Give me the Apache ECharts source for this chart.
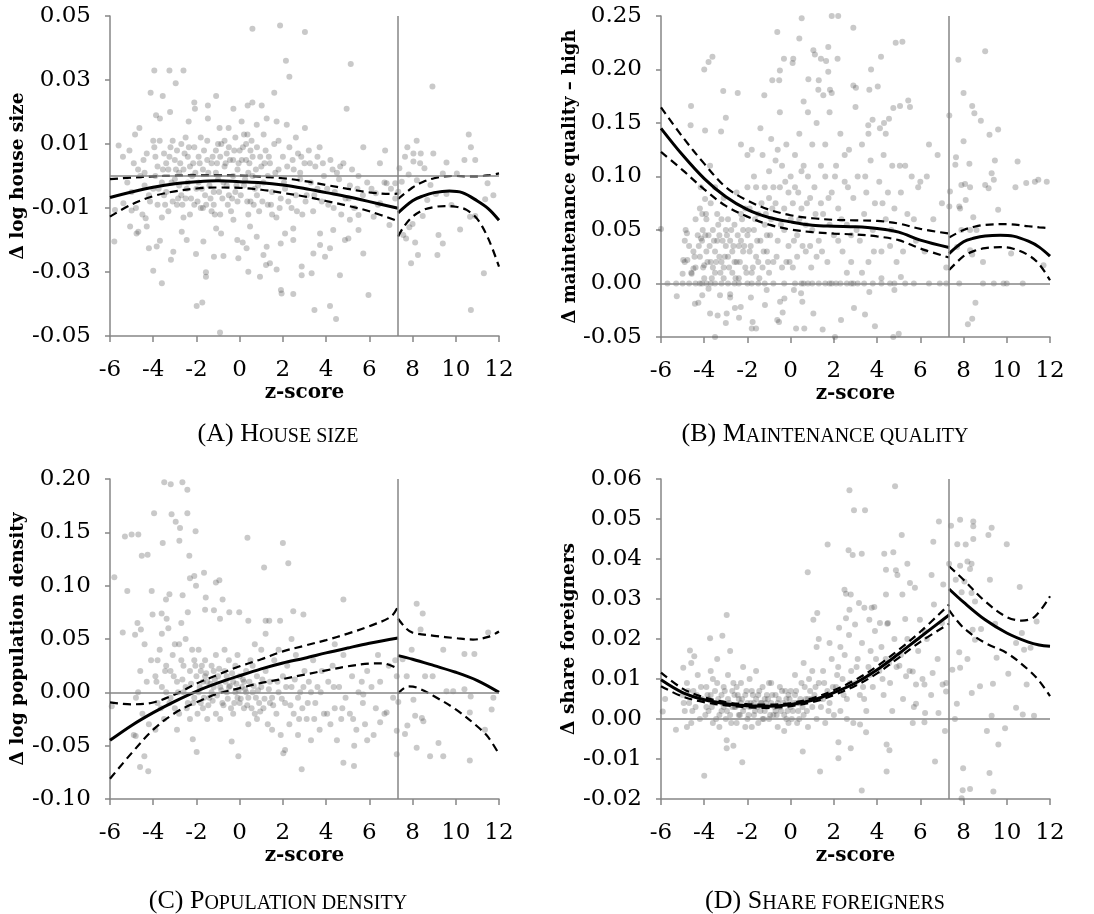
<!DOCTYPE html>
<html><head><meta charset="utf-8">
<script src="https://cdn.jsdelivr.net/npm/echarts@6/dist/echarts.min.js"></script>
<style>html,body{margin:0;padding:0;background:#fff}#c{width:1094px;height:914px}</style>
</head><body><div id="c"></div><script>
// ---------- axis settings ----------
const xMin = -6, xMax = 12, xStep = 2;
const cutoff = 7.33;
const yMinA = -0.05, yMaxA = 0.05, yStepA = 0.02;
const yMinB = -0.05, yMaxB = 0.25, yStepB = 0.05;
const yMinC = -0.10, yMaxC = 0.20, yStepC = 0.05;
const yMinD = -0.02, yMaxD = 0.06, yStepD = 0.01;
const yNames = ['Δ log house size', 'Δ maintenance quality – high', 'Δ log population density', 'Δ share foreigners'];
const xName = 'z-score';
const capBig = ['(A) H', '(B) M', '(C) P', '(D) S'];
const capSmall = ['OUSE SIZE', 'AINTENANCE QUALITY', 'OPULATION DENSITY', 'HARE FOREIGNERS'];

// ---------- panel A: house size ----------
const ptsA = [
[1.87,0.047],[0.59,0.046],[3.02,0.045],[2.14,0.036],[5.14,0.035],[-3.95,0.033],[-3.25,0.033],[-2.6,0.033],[2.3,0.031],[-2.96,0.029],[8.92,0.028],[-4.12,0.026],[-3.56,0.025],[1.6,0.026],[-2.1,0.023],[-1.09,0.025],[-0.29,0.021],[0.37,0.022],[0.59,0.023],[-2.07,0.021],[-1.47,0.022],[1.02,0.022],[4.95,0.021],[-3.22,0.02],[-3.87,0.019],[-3.69,0.018],[1.25,0.018],[1.71,0.017],[-2.36,0.017],[-1.47,0.018],[0.09,0.017],[0.79,0.016],[2.18,0.016],[3.02,0.015],[-4.64,0.015],[-4.84,0.013],[-0.93,0.015],[-0.51,0.015],[0.36,0.013],[1.11,0.013],[6.73,0.008],[10.6,0.013],[7.76,0.009],[8.19,0.011],[10.7,0.009],[10.9,0.005],[10.4,0.005],[8.96,0.007],[5.72,0.009],[6.49,0.004],[8.04,0.007],[8.38,0.007],[7.65,0.006],
[-5.8,-0.0205],[-4.0,-0.0296],[-3.6,-0.0335],[-1.99,-0.0406],[-1.73,-0.0395],[-1.56,-0.0301],[-1.56,-0.0315],[-0.91,-0.0489],[1.91,-0.0356],[1.94,-0.0367],[2.48,-0.0369],[3.46,-0.0419],[4.18,-0.0406],[4.46,-0.0447],[5.96,-0.0372],[4.64,-0.031],[2.87,-0.031],[10.7,-0.0419],[11.3,-0.0304],[7.93,-0.0273],[8.12,-0.0208],[8.25,-0.0247],[9.15,-0.0247],[9.4,-0.0211],[9.2,-0.0184],[10.2,-0.0167],[7.57,-0.0184],[7.7,-0.0195],[7.85,-0.016],[8.0,-0.015],[8.47,-0.0125],[8.68,-0.0075],[10.66,-0.0127],[10.9,-0.0125],[11.36,-0.0073],[11.74,-0.006],[11.47,-0.0023],[9.8,-0.0091],[9.08,-0.0056],[9.57,-0.0056],[8.83,-0.0028],[9.4,0.0008],[10.05,0.0008],[9.57,0.0042],[8.04,0.0045],[8.35,0.004],[8.55,0.0024],[8.2,-0.0013],[7.82,0.0005],[7.39,0.0024],[7.5,-0.0018],[7.34,-0.0049],[6.93,-0.0153],[7.2,-0.0023],[6.8,-0.0023],[6.3,-0.0054],[6.5,-0.0085],[6.2,-0.0127],[5.5,-0.0122],[5.5,-0.0169],[5.72,-0.0242],[5.1,-0.0137],[5.03,-0.0195],[4.87,-0.02],[4.33,-0.0169],[4.18,-0.0226],[3.95,-0.0252],[3.72,-0.0216],[3.72,-0.018],[3.41,-0.0242],[2.87,-0.0283],[3.33,-0.0304],[2.48,-0.02],[2.48,-0.0164],[2.1,-0.018],[1.9,-0.0211],[1.4,-0.0273],[1.71,-0.0292],[1.22,-0.0278],[0.94,-0.0315],[1.25,-0.0221],[1.1,-0.0247],[0.79,-0.019],[0.48,-0.0158],[0.4,-0.0299],[0.32,-0.0226],[0.14,-0.0208],[-0.06,-0.0257],[-0.11,-0.02],[-0.29,-0.0137],[-0.75,-0.025],[-0.86,-0.018],[-1.19,-0.0252],[-1.09,-0.0164],[-1.68,-0.0205],[-2.02,-0.0244],[-2.45,-0.02],[-2.68,-0.0174],[-3.07,-0.0237],[-3.18,-0.0262],[-3.69,-0.0202],[-3.84,-0.022],[-4.2,-0.0226],[-4.3,-0.0158],[-4.35,-0.0132],[-4.77,-0.018],[-4.69,-0.0174],[-5.07,-0.0158],[-5.0,-0.0108],[-5.38,-0.0085],[-5.77,-0.0106],
[-5.6,0.0095],[-5.4,0.006],[-5.1,0.008],[-4.9,0.004],[-4.7,0.002],[-4.6,0.0],[-4.4,-0.003],[-4.3,0.007],[-4.2,-0.006],[-5.2,-0.002],[-5.0,-0.005],[-4.8,-0.01],[-4.5,-0.012],[-4.4,0.001],
[-4.0,0.011],[-3.9,0.006],[-3.8,0.003],[-3.7,0.011],[-3.6,-0.002],[-3.5,0.007],[-3.4,-0.005],[-3.3,0.002],[-3.2,0.009],[-3.1,-0.008],[-3.0,0.005],[-4.0,-0.004],[-3.8,-0.009],[-3.6,-0.013],[-3.3,-0.011],[-3.0,-0.001],[-3.9,0.0],[-3.5,-0.006],[-3.1,0.011],[-3.4,0.004],
[-2.9,0.008],[-2.8,-0.003],[-2.7,0.01],[-2.6,0.002],[-2.5,-0.007],[-2.4,0.006],[-2.3,-0.012],[-2.2,0.0],[-2.1,0.009],[-2.0,-0.004],[-2.9,-0.009],[-2.7,-0.006],[-2.5,0.012],[-2.3,0.003],[-2.1,-0.009],[-2.8,0.001],[-2.6,-0.013],[-2.4,-0.002],
[-1.9,0.006],[-1.8,-0.01],[-1.7,0.002],[-1.6,-0.006],[-1.5,0.011],[-1.4,-0.003],[-1.3,0.004],[-1.2,-0.009],[-1.1,0.008],[-1.0,-0.001],[-1.9,-0.002],[-1.7,-0.01],[-1.5,0.005],[-1.3,-0.011],[-1.1,0.001],[-1.0,0.01],[-1.8,0.012],[-1.2,-0.005],
[-0.9,0.006],[-0.8,-0.007],[-0.7,0.003],[-0.6,-0.003],[-0.5,0.009],[-0.4,-0.011],[-0.3,0.005],[-0.2,-0.005],[-0.1,0.002],[0.0,0.008],[-0.9,-0.012],[-0.7,0.011],[-0.5,-0.006],[-0.3,0.0],[-0.1,-0.008],[-0.6,0.007],[-0.2,0.012],
[0.1,0.005],[0.2,-0.003],[0.3,0.01],[0.4,0.001],[0.5,-0.008],[0.6,0.006],[0.7,-0.004],[0.8,0.009],[0.9,-0.011],[1.0,0.003],[0.2,0.013],[0.4,-0.012],[0.6,0.0],[0.8,-0.006],[0.3,0.005],[0.5,0.008],
[1.1,-0.002],[1.2,0.008],[1.3,-0.009],[1.4,0.004],[1.5,-0.005],[1.6,0.01],[1.7,-0.013],[1.8,0.002],[1.9,-0.007],[2.0,0.006],[1.3,0.0],[1.5,-0.012],[1.8,0.011],
[2.1,-0.004],[2.3,0.009],[2.4,-0.01],[2.5,0.002],[2.6,-0.006],[2.7,0.007],[2.8,-0.001],[2.9,-0.012],[3.0,0.004],[2.2,0.003],[2.6,0.012],[2.8,0.001],
[3.1,-0.006],[3.2,0.008],[3.4,-0.011],[3.5,0.003],[3.6,-0.004],[3.7,0.009],[3.8,-0.008],[3.9,0.0],[3.3,-0.002],[3.6,0.006],
[4.1,-0.009],[4.2,0.005],[4.4,-0.005],[4.5,0.001],[4.7,-0.012],[4.8,0.004],[4.9,-0.007],[4.3,0.002],[4.6,-0.001],
[5.1,-0.003],[5.3,-0.01],[5.5,0.0],[5.7,-0.006],[5.9,-0.002],[5.2,0.002],
[6.1,-0.004],[6.4,-0.009],[6.7,-0.002],[7.0,-0.004],[7.2,-0.007],
[-4.45,0.005],[-4.15,-0.008],[-3.95,0.009],[-3.75,-0.004],[-3.55,0.002],[-3.45,-0.009],[-3.25,0.006],[-3.15,-0.002],[-2.95,0.002],[-2.85,-0.007],[-2.75,0.004],[-2.65,-0.009],[-2.55,0.007],[-2.45,-0.004],[-2.35,0.009],[-2.25,-0.007],[-2.15,0.004],[-2.05,0.001],[-1.95,-0.008],[-1.85,0.004],[-1.75,-0.004],[-1.65,0.008],[-1.55,-0.009],[-1.45,0.001],[-1.35,-0.007],[-1.25,0.006],[-1.15,-0.012],[-1.05,0.004],[-0.95,-0.005],[-0.85,0.01],[-0.75,-0.002],[-0.65,0.004],[-0.55,-0.009],[-0.45,0.005],[-0.35,-0.007],[-0.25,0.008],[-0.15,-0.003],[-0.05,0.004],[0.05,-0.006],[0.15,0.009],[0.25,-0.001],[0.35,-0.008],[0.45,0.004],[0.55,0.011],[0.65,-0.009],[0.75,0.002],[0.85,-0.003],[0.95,0.006],[1.05,-0.008],[1.15,0.004],[1.35,0.006],[1.45,-0.009],[1.65,0.001],[1.85,-0.01],[2.05,-0.002],[2.25,-0.008],[2.45,0.005],[2.65,-0.011],[2.85,0.006],[3.05,-0.008],[3.25,0.004],[3.45,-0.006],[3.85,0.004],[4.05,-0.004],[4.35,-0.01],[4.65,0.003],[5.05,-0.007],[5.45,-0.004]
];
const fitA_L = [[-6,-0.0067],[-5,-0.005],[-4,-0.0035],[-3,-0.0024],[-2,-0.0018],[-1,-0.0015],[0,-0.0018],[1,-0.0021],[2,-0.0028],[3,-0.0039],[4,-0.0052],[5,-0.0065],[6,-0.008],[7.33,-0.0101]];
const upA_L = [[-6,-0.001],[-5,-0.0005],[-4,-0.0001],[-3,0.0001],[-2,0.0002],[-1,0.0002],[0,0.0001],[1,-0.0002],[2,-0.0007],[3,-0.0016],[4,-0.0028],[5,-0.004],[6,-0.0051],[7,-0.0056],[7.33,-0.0055]];
const loA_L = [[-6,-0.0127],[-5,-0.0089],[-4,-0.0063],[-3,-0.0048],[-2,-0.0039],[-1,-0.0036],[0,-0.0037],[1,-0.0043],[2,-0.0053],[3,-0.0064],[4,-0.0078],[5,-0.0093],[6,-0.011],[7.33,-0.0141]];
const fitA_R = [[7.33,-0.0115],[8,-0.0077],[8.5,-0.0062],[9,-0.0052],[9.7,-0.0047],[10.3,-0.0052],[11,-0.0078],[11.5,-0.0102],[12,-0.0138]];
const upA_R = [[7.33,-0.0072],[8,-0.0036],[8.5,-0.0018],[9,-0.0007],[9.5,-0.0001],[10,0.0],[10.5,-0.0001],[11,-0.0001],[11.5,0.0002],[12,0.0008]];
const loA_R = [[7.33,-0.0189],[7.6,-0.0158],[8,-0.0127],[8.5,-0.0106],[9,-0.0097],[9.5,-0.0094],[10,-0.0096],[10.5,-0.0106],[11,-0.0135],[11.5,-0.0195],[12,-0.0283]];

// ---------- panel B: maintenance quality ----------
const ptsB = [
[0.51,0.248],[1.9,0.25],[2.2,0.25],[2.9,0.239],[-0.62,0.235],[0.4,0.229],[4.86,0.225],[5.17,0.226],[9.0,0.217],[1.05,0.218],[1.74,0.221],[1.12,0.214],[1.4,0.21],[1.64,0.208],[2.17,0.21],[-0.31,0.21],[0.12,0.21],[0.09,0.206],[4.18,0.212],[3.72,0.2],[2.9,0.185],[3.02,0.183],[3.64,0.181],[4.03,0.184],[8.0,0.178],[-0.5,0.199],[-0.53,0.19],[-0.85,0.19],[1.74,0.198],[1.82,0.181],[1.9,0.178],[1.51,0.176],[1.28,0.181],[0.82,0.191],[7.76,0.209],[-4.0,0.2],[-3.8,0.207],[-3.62,0.212],[-3.12,0.18],[-2.45,0.178],[-1.22,0.176],[-4.61,0.166],[-3.0,0.155],[-3.22,0.142],[-3.96,0.143],[-4.63,0.148],[5.44,0.171],[5.52,0.165],[5.06,0.166],[4.75,0.164],[4.55,0.154],[4.32,0.15],[3.79,0.153],[4.13,0.145],[3.59,0.148],[7.34,0.157],[8.8,0.152],[8.4,0.166],[8.5,0.159],[8.0,0.133],[9.2,0.139],[9.6,0.144],[10.5,0.114],[9.45,0.115],[10.9,0.094],[11.3,0.095],[11.85,0.095],[11.46,0.097],[10.4,0.09],[9.3,0.103],[9.0,0.092],[9.16,0.089],[9.6,0.069],[9.4,0.097],[8.27,0.112],[8.07,0.093],[7.9,0.092],[8.3,0.09],[7.65,0.118],[7.62,0.111],[7.37,0.086],[7.8,0.072],[8.1,0.078],[7.84,0.07],[7.34,0.072],[8.45,0.062],[8.3,0.05],[8.6,0.05],[7.9,0.05],[7.7,0.034],[8.3,0.031],[8.4,0.027],[10.2,0.028],[8.9,0.02],[11.7,0.017],[8.55,-0.018],[8.4,-0.033],[8.2,-0.038],
[-6.0,0.051],[-4.86,0.05],[-4.8,0.047],[-4.97,0.022],[-4.78,0.022],[-5.0,0.009],[-5.27,-0.012],[-4.58,0.009],[-4.5,0.014],[-4.43,-0.019],[-4.27,-0.018],[-4.09,-0.011],[-4.0,0.017],[-4.09,0.065],[-3.96,0.079],[-3.73,0.11],[-4.15,0.042],[-4.07,0.05],[-4.16,0.09],[-3.92,0.065],[-3.73,-0.028],[-3.5,-0.05],[-3.38,-0.03],[-3.0,-0.037],[-2.96,-0.028],[-2.8,-0.013],[-3.27,-0.011],[-2.39,-0.032],[-2.58,-0.023],[-2.31,-0.022],[-1.76,-0.036],[-1.6,-0.042],[-1.8,-0.042],[-1.84,-0.013],[-1.19,-0.02],[-1.11,-0.006],[-0.62,-0.034],[-0.54,-0.036],[-0.37,-0.027],[-0.49,-0.017],[-0.29,-0.014],[0.25,-0.042],[0.63,-0.042],[1.05,-0.028],[1.48,-0.043],[0.54,-0.017],[0.48,-0.009],[0.15,-0.006],[2.05,-0.05],[2.33,-0.034],[2.93,-0.023],[3.44,-0.029],[3.64,-0.008],[3.9,-0.04],[4.75,-0.05],[5.0,-0.047],[4.2,0.005],[5.1,0.006],[4.8,-0.006],
[-5.7,0],[-5.3,0],[-5.0,0],[-4.7,0],[-4.4,0],[-4.2,0],[-4.1,0],[-3.9,0],[-3.7,0],[-3.5,0],[-3.2,0],[-2.9,0],[-2.6,0],[-2.4,0],[-2.0,0],[-1.8,0],[-1.5,0],[-1.2,0],[-0.8,0],[-0.3,0],[0.2,0],[0.5,0],[0.6,0],[0.8,0],[1.0,0],[1.3,0],[1.6,0],[1.8,0],[1.9,0],[2.1,0],[2.3,0],[2.6,0],[2.8,0],[2.9,0],[3.1,0],[3.4,0],[3.8,0],[4.2,0],[4.6,0],[4.8,0],[5.3,0],[5.7,0],[6.4,0],[6.9,0],[7.2,0],[7.8,0],[8.9,0],[9.4,0],[9.85,0],[10.0,0],[10.74,0],
[-4.9,0.02],[-4.7,0.035],[-4.6,0.01],[-4.5,0.03],[-4.4,0.015],[-4.3,0.045],[-4.2,0.025],[-4.1,0.04],[-4.0,0.005],[-4.9,0.04],[-4.4,0.06],[-4.2,0.07],
[-3.9,0.03],[-3.8,0.045],[-3.7,0.02],[-3.6,0.05],[-3.5,0.01],[-3.4,0.04],[-3.3,0.025],[-3.2,0.06],[-3.1,0.015],[-3.0,0.035],[-3.9,0.06],[-3.7,0.075],[-3.5,0.03],[-3.3,0.045],[-3.1,0.005],[-3.6,0.015],[-3.4,0.065],[-3.2,0.02],[-3.0,0.05],[-3.8,-0.005],[-3.5,0.09],[-3.1,0.08],
[-2.9,0.025],[-2.8,0.04],[-2.7,0.01],[-2.6,0.055],[-2.5,0.02],[-2.4,0.035],[-2.3,0.065],[-2.2,0.03],[-2.1,0.015],[-2.0,0.045],[-2.9,0.06],[-2.7,0.03],[-2.5,0.085],[-2.4,0.005],[-2.2,0.05],[-2.0,0.09],[-2.8,-0.01],[-2.6,0.02],[-2.3,0.04],[-2.1,0.07],[-2.0,0.12],[-2.3,0.13],
[-1.9,0.03],[-1.8,0.01],[-1.7,0.05],[-1.6,0.025],[-1.5,0.065],[-1.4,0.04],[-1.3,0.015],[-1.2,0.055],[-1.1,0.03],[-1.0,0.08],[-1.9,0.07],[-1.7,0.1],[-1.5,0.02],[-1.3,0.12],[-1.1,0.045],[-1.0,0.01],[-1.6,0.09],[-1.4,0.145],[-1.2,0.09],[-1.8,0.125],[-1.0,0.105],
[-0.9,0.06],[-0.8,0.02],[-0.7,0.115],[-0.6,0.04],[-0.5,0.09],[-0.4,0.015],[-0.3,0.07],[-0.2,0.13],[-0.1,0.035],[0.0,0.1],[-0.9,0.135],[-0.7,0.075],[-0.5,0.16],[-0.3,0.05],[-0.1,0.085],[-0.8,0.09],[-0.4,0.11],[-0.2,0.02],[-0.6,0.125],[0.0,0.06],
[0.1,0.015],[0.2,0.09],[0.3,0.045],[0.4,0.14],[0.5,0.07],[0.6,0.11],[0.7,0.03],[0.8,0.16],[0.9,0.08],[1.0,0.05],[0.2,0.12],[0.4,0.06],[0.6,0.17],[0.8,0.1],[1.0,0.13],[0.3,0.025],[0.7,0.055],[0.5,0.105],[0.9,0.035],[0.1,0.075],
[1.1,0.09],[1.2,0.15],[1.3,0.04],[1.4,0.11],[1.5,0.065],[1.6,0.13],[1.7,0.02],[1.8,0.16],[1.9,0.085],[2.0,0.045],[1.2,0.025],[1.4,0.075],[1.6,0.1],[1.8,0.055],[1.3,0.19],
[2.1,0.11],[2.2,0.07],[2.3,0.14],[2.4,0.03],[2.5,0.095],[2.6,0.055],[2.7,0.125],[2.8,0.02],[2.9,0.08],[3.0,0.165],[2.2,0.04],[2.5,0.12],[2.8,0.045],[2.6,0.01],
[3.1,0.1],[3.2,0.04],[3.3,0.13],[3.4,0.065],[3.5,0.085],[3.6,0.02],[3.7,0.115],[3.8,0.05],[3.9,0.075],[3.3,0.01],[3.6,0.14],
[4.1,0.095],[4.2,0.03],[4.3,0.12],[4.4,0.06],[4.5,0.085],[4.6,0.035],[4.7,0.11],[4.8,0.07],[4.9,0.02],[4.4,0.14],
[5.1,0.085],[5.3,0.11],[5.4,0.065],[5.6,0.1],[5.8,0.04],[5.9,0.09],[5.2,0.03],[5.7,0.06],
[6.0,0.095],[6.2,0.03],[6.4,0.13],[6.6,0.06],[6.8,0.12],[7.0,0.075],[7.2,0.015],[6.3,0.1],
[-4.45,0.025],[-4.25,0.035],[-4.05,0.015],[-3.95,0.045],[-3.85,0.02],[-3.75,0.035],[-3.65,0.005],[-3.55,0.04],[-3.45,0.02],[-3.35,0.055],[-3.25,0.01],[-3.15,0.04],[-3.05,0.025],[-2.95,0.045],[-2.85,0.015],[-2.75,0.05],[-2.65,0.035],[-2.55,0.005],[-2.45,0.045],[-2.35,0.02],[-2.25,0.06],[-2.15,0.035],[-2.05,0.01],[-1.95,0.05],[-1.85,0.035],[-1.75,0.015],[-1.65,0.06],[-1.55,0.04],[-1.45,0.005],[-1.35,0.075],[-1.25,0.03],[-1.15,0.065],[-1.05,0.02],[-0.95,0.045],[-0.85,0.07],[-0.65,0.025],[-0.45,0.055],[-0.25,0.095],[-0.05,0.02],[0.15,0.04],[0.35,0.085],[0.55,0.035],[0.75,0.075],[0.95,0.015],[1.15,0.065],[1.45,0.03],[1.75,0.08],[2.05,0.1],[2.35,0.06],[2.65,0.09],[3.05,0.05],[3.45,0.1],[3.85,0.03],[4.25,0.075],[4.65,0.05],[5.05,0.11]
];
const fitB_L = [[-6,0.145],[-5,0.12],[-4,0.098],[-3,0.081],[-2,0.069],[-1,0.0617],[0,0.0576],[1,0.0545],[2,0.0535],[3,0.053],[4,0.0514],[5,0.048],[6,0.0405],[7.33,0.0336]];
const upB_L = [[-6,0.1646],[-5,0.137],[-4,0.112],[-3,0.09],[-2,0.0775],[-1,0.069],[0,0.0638],[1,0.061],[2,0.0595],[3,0.059],[4,0.0585],[5,0.056],[6,0.051],[7.33,0.0467]];
const loB_L = [[-6,0.123],[-5,0.106],[-4,0.088],[-3,0.0725],[-2,0.0625],[-1,0.055],[0,0.0505],[1,0.048],[2,0.0467],[3,0.0458],[4,0.044],[5,0.0405],[6,0.0327],[7.33,0.0243]];
const fitB_R = [[7.33,0.028],[8,0.039],[8.5,0.0425],[9,0.0445],[9.7,0.0452],[10.3,0.0443],[11,0.0395],[11.5,0.034],[12,0.0255]];
const upB_R = [[7.33,0.043],[8,0.05],[8.5,0.053],[9,0.0548],[10,0.0555],[11,0.0535],[11.5,0.0525],[12,0.0516]];
const loB_R = [[7.33,0.0125],[8,0.0255],[8.5,0.0305],[9,0.033],[9.7,0.034],[10.3,0.0325],[11,0.0265],[11.5,0.018],[12,0.003]];

// ---------- panel C: population density ----------
const ptsC = [
[-3.49,0.197],[-3.19,0.195],[-2.65,0.197],[-2.42,0.19],[-3.15,0.167],[-2.42,0.168],[-3.96,0.168],[-2.96,0.16],[-2.76,0.154],[-2.79,0.142],[-3.56,0.14],[-5.31,0.146],[-5.0,0.148],[-4.69,0.148],[-2.04,0.151],[-2.33,0.128],[-4.53,0.128],[-4.26,0.129],[0.36,0.145],[2.0,0.14],[2.25,0.121],[1.13,0.117],[-5.8,0.108],[-5.2,0.095],[-4.07,0.095],[-2.3,0.107],[-2.1,0.109],[-2.02,0.1],[-1.65,0.112],[-1.1,0.103],[-0.94,0.105],[-3.25,0.092],[-3.41,0.087],[-2.64,0.091],[-1.57,0.089],[-0.79,0.087],[4.8,0.087],[-5.41,0.056],[-4.84,0.054],[-4.57,0.059],[-4.73,0.065],[-4.03,0.073],[-3.61,0.074],[-3.38,0.069],[-1.6,0.0775],[-1.19,0.077],[-0.91,0.069],[-0.48,0.075],[-0.02,0.075],[0.4,0.067],[1.2,0.067],[1.37,0.067],[1.87,0.067],[2.48,0.076],[2.95,0.073],[8.19,0.083],[8.47,0.074],[8.37,0.059],[11.5,0.056],[10.86,0.036],[10.4,0.036],[9.42,0.04],[8.93,0.015],[7.96,0.04],[7.54,0.031],[7.73,0.015],[7.27,0.015],[8.58,0.015],[9.57,0.001],[9.88,0.001],[10.4,0.003],[10.69,-0.004],[11.74,-0.005],[11.66,-0.016],[8.04,-0.007],[8.12,-0.022],[8.43,-0.024],[8.5,-0.027],[7.76,-0.031],[7.65,-0.039],[7.27,-0.036],[7.27,-0.058],[8.19,-0.052],[8.81,-0.06],[9.2,-0.0475],[9.42,-0.06],[10.65,-0.019],[10.65,-0.064],[11.35,-0.035],[4.8,-0.066],[5.29,-0.069],[2.87,-0.072],[-0.06,-0.06],[-0.37,-0.046],[-1.99,-0.056],[-4.23,-0.074],[-4.61,-0.07],[-4.41,-0.06],[-4.81,-0.041],[-2.17,-0.044],[2.02,-0.057],[2.1,-0.054],[-5.92,-0.013],[7.34,-0.009],[6.8,-0.019],[5.72,-0.002],[6.2,-0.04],[6.5,-0.028],[5.9,-0.045],
[-4.8,-0.005],[-4.6,0.02],[-4.5,-0.02],[-4.3,0.01],[-4.2,-0.03],[-4.1,0.03],[-4.9,-0.04],[-4.4,0.045],[-4.7,0.0],
[-3.9,0.015],[-3.8,-0.01],[-3.7,0.04],[-3.6,0.005],[-3.5,-0.025],[-3.4,0.025],[-3.3,0.06],[-3.2,-0.005],[-3.1,0.035],[-3.0,-0.015],[-3.9,-0.035],[-3.6,0.055],[-3.4,0.0],[-3.2,0.02],[-3.8,0.03],[-3.0,0.045],
[-2.9,0.01],[-2.8,-0.02],[-2.7,0.03],[-2.6,0.0],[-2.5,0.05],[-2.4,-0.01],[-2.3,0.02],[-2.2,0.04],[-2.1,-0.005],[-2.0,0.015],[-2.9,-0.035],[-2.7,0.065],[-2.5,0.005],[-2.3,-0.025],[-2.1,0.03],[-2.8,0.045],[-2.4,0.075],[-2.6,0.025],
[-1.9,0.0],[-1.8,0.02],[-1.7,-0.015],[-1.6,0.03],[-1.5,0.01],[-1.4,-0.005],[-1.3,0.025],[-1.2,0.005],[-1.1,-0.02],[-1.0,0.015],[-1.9,0.04],[-1.7,0.01],[-1.5,-0.025],[-1.3,0.0],[-1.1,0.035],[-1.8,-0.01],[-1.6,0.015],[-1.2,0.02],
[-0.9,0.005],[-0.8,-0.01],[-0.7,0.02],[-0.6,0.0],[-0.5,0.03],[-0.4,-0.015],[-0.3,0.01],[-0.2,0.025],[-0.1,-0.005],[0.0,0.015],[-0.9,-0.025],[-0.7,0.04],[-0.5,0.005],[-0.3,-0.02],[-0.1,0.035],[-0.6,0.015],[-0.2,0.0],[0.0,-0.01],
[0.1,0.005],[0.2,-0.015],[0.3,0.02],[0.4,-0.005],[0.5,0.03],[0.6,0.0],[0.7,-0.02],[0.8,0.015],[0.9,-0.01],[1.0,0.04],[0.2,0.01],[0.4,-0.03],[0.6,0.025],[0.8,-0.025],[1.0,0.005],[0.3,0.0],[0.7,0.045],
[1.1,-0.015],[1.2,0.02],[1.3,-0.03],[1.4,0.01],[1.5,-0.005],[1.6,0.03],[1.7,-0.02],[1.8,0.0],[1.9,-0.04],[2.0,0.015],[1.2,0.055],[1.5,-0.035],[1.8,0.04],[1.4,-0.01],
[2.1,-0.01],[2.2,0.025],[2.3,-0.03],[2.4,0.005],[2.5,-0.02],[2.6,0.035],[2.7,-0.04],[2.8,0.0],[2.9,-0.015],[3.0,0.02],[2.4,0.05],[2.7,-0.005],
[3.1,-0.025],[3.2,0.01],[3.3,-0.045],[3.4,0.03],[3.5,-0.01],[3.6,0.005],[3.7,-0.035],[3.8,0.02],[3.9,-0.02],[3.3,0.0],
[4.1,0.01],[4.2,-0.03],[4.3,0.025],[4.4,-0.015],[4.5,-0.045],[4.6,0.005],[4.7,-0.025],[4.8,0.035],[4.9,-0.005],[4.4,0.045],
[5.1,-0.02],[5.2,0.015],[5.4,-0.035],[5.5,0.0],[5.7,-0.01],[5.9,0.02],[5.3,-0.05],[5.8,-0.03],
[6.1,0.005],[6.3,-0.015],[6.5,0.01],[6.7,-0.02],[6.9,0.025],[7.1,-0.005],[7.2,0.03],[6.4,0.035],
[-3.85,0.01],[-3.65,-0.015],[-3.45,0.02],[-3.25,-0.01],[-3.05,0.015],[-2.85,0.0],[-2.65,0.012],[-2.45,-0.015],[-2.25,0.008],[-2.15,-0.01],[-2.05,0.025],[-1.95,-0.02],[-1.85,0.005],[-1.75,0.025],[-1.65,-0.005],[-1.55,0.018],[-1.45,-0.012],[-1.35,0.008],[-1.25,-0.008],[-1.15,0.012],[-1.05,-0.003],[-0.95,0.022],[-0.85,0.002],[-0.75,-0.012],[-0.65,0.01],[-0.55,-0.006],[-0.45,0.006],[-0.35,0.018],[-0.25,-0.01],[-0.15,0.008],[-0.05,0.002],[0.05,-0.006],[0.15,0.012],[0.25,0.003],[0.35,-0.012],[0.45,0.01],[0.55,-0.015],[0.65,0.006],[0.75,-0.005],[0.85,0.002],[0.95,-0.018],[1.05,0.012],[1.15,-0.006],[1.35,0.003],[1.55,-0.012],[1.75,0.01],[1.95,-0.006],[2.15,0.005],[2.35,-0.012],[2.55,0.012],[2.75,-0.025],[2.95,0.005],[3.15,-0.01],[3.45,-0.025],[3.75,0.0],[4.05,-0.02],[4.35,0.005],[4.75,-0.015],[5.25,-0.025],[5.65,0.01]
];
const fitC_L = [[-6,-0.045],[-5,-0.031],[-4,-0.019],[-3,-0.0084],[-2,0.001],[-1,0.0088],[0,0.0156],[1,0.022],[2,0.0275],[3,0.032],[4,0.037],[5,0.0416],[6,0.046],[7.33,0.051]];
const upC_L = [[-6,-0.0094],[-5,-0.0112],[-4,-0.0095],[-3,-0.002],[-2,0.0081],[-1,0.0166],[0,0.0244],[1,0.031],[2,0.0384],[3,0.0437],[4,0.049],[5,0.055],[6,0.062],[7,0.071],[7.33,0.0806]];
const loC_L = [[-6,-0.081],[-5,-0.057],[-4,-0.035],[-3,-0.0194],[-2,-0.0094],[-1,-0.0012],[0,0.004],[1,0.0088],[2,0.0125],[3,0.0166],[4,0.0206],[5,0.0244],[6,0.0269],[6.6,0.0272],[7.33,0.022]];
const fitC_R = [[7.33,0.0344],[8,0.031],[9,0.025],[10,0.0188],[11,0.011],[12,0.0]];
const upC_R = [[7.33,0.069],[7.7,0.06],[8,0.056],[9,0.053],[10,0.0508],[10.8,0.0495],[11.5,0.052],[12,0.057]];
const loC_R = [[7.33,-0.001],[7.8,0.0056],[8.2,0.0045],[9,-0.0037],[10,-0.016],[11,-0.032],[11.5,-0.042],[12,-0.058]];

// ---------- panel D: share foreigners ----------
const ptsD = [
[2.72,0.0572],[4.83,0.0582],[2.93,0.0522],[3.44,0.0522],[5.14,0.046],[7.84,0.0498],[6.86,0.0494],[7.42,0.0483],[8.45,0.0494],[8.45,0.0482],[9.3,0.0478],[9.15,0.046],[10.0,0.0437],[6.6,0.0443],[8.45,0.045],[8.1,0.0436],[7.71,0.0437],[1.71,0.0436],[2.68,0.0422],[2.87,0.041],[3.29,0.0413],[4.33,0.0413],[4.75,0.0417],[8.18,0.0394],[8.37,0.0388],[8.3,0.0375],[7.84,0.0383],[7.33,0.0388],[5.4,0.0388],[4.41,0.0373],[4.94,0.036],[6.52,0.036],[0.79,0.0367],[5.52,0.034],[4.87,0.0372],[9.22,0.0348],[7.64,0.0348],[8.04,0.0344],[2.56,0.0313],[2.49,0.0323],[2.78,0.0311],[4.41,0.0311],[5.17,0.0311],[5.75,0.0328],[7.06,0.0336],[10.6,0.033],[8.37,0.0315],[7.91,0.0317],[3.16,0.029],[3.75,0.0278],[3.87,0.028],[6.63,0.0286],[8.53,0.0294],[-2.96,0.026],[-3.16,0.0208],[-3.73,0.0202],[1.23,0.0265],[1.05,0.0248],[2.56,0.0252],[2.72,0.0273],[2.24,0.0228],[3.41,0.0278],[2.98,0.0236],[3.64,0.0248],[4.13,0.024],[4.47,0.0238],[5.98,0.0248],[6.2,0.0219],[11.38,0.0244],[8.42,0.0223],[8.81,0.0225],[9.46,0.0238],[10.7,0.0215],[10.43,0.019],[11.1,0.0178],[10.8,0.0173],[9.53,0.0153],[8.18,0.015],[7.8,0.0167],[8.53,0.0198],[7.84,0.0128],[7.48,0.0123],[8.38,0.0065],[10.07,0.0113],[9.36,0.0088],[8.76,0.0082],[10.92,0.0086],[11.26,0.0008],[10.74,0.0011],[10.43,0.0028],[9.3,0.0008],[7.6,0.0],[7.69,0.0038],[6.84,0.0015],[7.14,-0.003],[9.08,-0.003],[9.92,-0.0023],[9.61,-0.0064],[7.98,-0.0123],[8.3,-0.0175],[7.96,-0.0178],[7.91,-0.0198],[9.2,-0.0135],[9.38,-0.0181],[6.68,-0.0106],[4.44,-0.0064],[4.57,-0.0078],[4.44,-0.0131],[1.36,-0.0131],[3.29,-0.0179],[2.21,-0.0098],[2.78,-0.0073],[2.21,-0.0058],[3.49,-0.0033],[3.21,-0.0014],[0.56,-0.0081],[-2.24,-0.0108],[-4.0,-0.0142],[-2.96,-0.0073],[-2.96,-0.0053],[-2.65,-0.0067],[-5.31,-0.0027],[-5.92,0.0019],[-5.81,0.005],[-4.97,0.0128],[-4.66,0.0171],[-4.46,0.0157],[5.8,0.0038],[5.65,0.0119],[5.03,0.0133],[5.34,0.0107],[5.8,0.0086],[6.19,0.0086],[6.57,0.0115],[7.03,0.0086],[7.19,0.0069],[6.19,-0.0008],[5.65,-0.001],[6.22,0.0015],
[-5.0,0.006],[-4.9,0.002],[-4.8,0.009],[-4.7,0.004],[-4.6,-0.001],[-4.5,0.007],[-4.4,0.003],[-4.3,0.011],[-4.2,0.0],[-4.1,0.005],[-4.6,0.014],[-4.8,-0.002],
[-3.9,0.008],[-3.8,0.002],[-3.7,0.006],[-3.6,-0.001],[-3.5,0.004],[-3.4,0.009],[-3.3,0.001],[-3.2,0.006],[-3.1,0.003],[-3.0,0.0],[-3.9,0.003],[-3.7,0.012],[-3.5,0.007],[-3.3,-0.002],[-3.1,0.008],[-3.8,0.005],[-3.4,0.015],[-3.2,0.002],[-3.6,0.01],
[-2.9,0.005],[-2.8,0.001],[-2.7,0.007],[-2.6,0.003],[-2.5,-0.001],[-2.4,0.005],[-2.3,0.009],[-2.2,0.002],[-2.1,0.006],[-2.0,0.0],[-2.9,0.011],[-2.7,0.003],[-2.5,0.008],[-2.3,0.004],[-2.1,-0.002],[-2.8,0.017],[-2.6,0.006],[-2.4,0.001],[-2.2,0.013],[-2.0,0.004],
[-1.9,0.003],[-1.8,0.007],[-1.7,0.001],[-1.6,0.005],[-1.5,-0.001],[-1.4,0.004],[-1.3,0.008],[-1.2,0.002],[-1.1,0.006],[-1.0,0.0],[-1.9,0.01],[-1.7,0.004],[-1.5,0.006],[-1.3,0.0],[-1.1,0.003],[-1.8,-0.002],[-1.6,0.012],[-1.4,0.002],[-1.2,0.005],[-1.0,0.009],
[-0.9,0.004],[-0.8,0.001],[-0.7,0.006],[-0.6,-0.002],[-0.5,0.003],[-0.4,0.007],[-0.3,0.001],[-0.2,0.005],[-0.1,-0.001],[0.0,0.003],[-0.9,0.009],[-0.7,0.002],[-0.5,0.008],[-0.3,-0.003],[-0.1,0.006],[-0.6,0.004],[-0.2,0.0],[0.0,0.007],
[0.1,0.002],[0.2,0.006],[0.3,-0.001],[0.4,0.004],[0.5,0.009],[0.6,0.001],[0.7,0.005],[0.8,-0.002],[0.9,0.007],[1.0,0.003],[0.2,0.011],[0.4,0.0],[0.6,0.014],[0.8,0.005],[1.0,0.012],[0.3,0.004],
[1.1,0.006],[1.2,0.0],[1.3,0.009],[1.4,0.003],[1.5,0.012],[1.6,-0.001],[1.7,0.007],[1.8,0.004],[1.9,0.015],[2.0,0.001],[1.2,0.018],[1.5,0.005],[1.8,0.019],[1.3,0.02],
[2.1,0.008],[2.2,0.013],[2.3,0.002],[2.4,0.01],[2.5,0.016],[2.6,0.005],[2.7,0.021],[2.8,0.012],[2.9,-0.001],[3.0,0.009],[2.3,0.018],[2.6,0.0],
[3.1,0.015],[3.2,0.006],[3.3,0.019],[3.4,0.01],[3.5,0.002],[3.6,0.013],[3.7,0.017],[3.8,0.008],[3.9,0.022],[3.4,0.005],
[4.1,0.012],[4.2,0.018],[4.3,0.006],[4.4,0.015],[4.5,0.024],[4.6,0.009],[4.7,0.002],[4.8,0.02],[4.9,0.013],
[5.1,0.016],[5.2,0.005],[5.4,0.02],[5.5,0.012],[5.7,0.003],[5.9,0.017],[5.3,0.025],
[6.1,0.01],[6.3,0.02],[6.5,0.006],[6.8,0.015],[7.0,0.024],[7.2,0.009],
[-4.95,0.004],[-4.75,0.007],[-4.55,0.002],[-4.35,0.006],[-4.15,0.008],[-3.95,0.001],[-3.85,0.006],[-3.65,0.003],[-3.45,0.0],[-3.35,0.005],[-3.15,0.004],[-3.05,0.007],[-2.95,0.002],[-2.85,0.004],[-2.75,-0.001],[-2.65,0.009],[-2.55,0.003],[-2.45,0.006],[-2.35,0.001],[-2.25,0.005],[-2.15,0.003],[-2.05,0.007],[-1.95,0.001],[-1.85,0.004],[-1.75,0.006],[-1.65,0.002],[-1.55,0.003],[-1.45,0.007],[-1.35,0.004],[-1.25,0.0],[-1.15,0.004],[-1.05,0.005],[-0.95,0.001],[-0.85,0.006],[-0.75,0.003],[-0.65,0.001],[-0.55,0.005],[-0.45,0.002],[-0.35,0.004],[-0.25,0.007],[-0.15,0.002],[-0.05,0.005],[0.05,0.0],[0.15,0.004],[0.25,0.007],[0.35,0.002],[0.45,0.005],[0.55,0.003],[0.65,0.008],[0.75,0.002],[0.85,0.01],[0.95,0.005],[1.15,0.008],[1.35,0.005],[1.55,0.009],[1.75,0.002],[1.95,0.008],[2.15,0.011],[2.45,0.006],[2.75,0.009],[3.05,0.013],[3.35,0.008],[3.65,0.011],[3.95,0.015],[4.25,0.01],[4.55,0.014]
];
const fitD_L = [[-6,0.0098],[-5,0.0066],[-4,0.0048],[-3,0.0038],[-2,0.0033],[-1,0.0032],[0,0.0036],[1,0.0047],[2,0.0066],[3,0.009],[4,0.0123],[5,0.0163],[6,0.0205],[7.33,0.026]];
const upD_L = [[-6,0.0116],[-5,0.0076],[-4,0.0054],[-3,0.0042],[-2,0.0037],[-1,0.0036],[0,0.004],[1,0.0052],[2,0.0072],[3,0.0098],[4,0.0132],[5,0.0173],[6,0.0218],[7.33,0.0286]];
const loD_L = [[-6,0.0082],[-5,0.0056],[-4,0.0042],[-3,0.0034],[-2,0.0029],[-1,0.0028],[0,0.0032],[1,0.0042],[2,0.006],[3,0.0083],[4,0.0114],[5,0.0153],[6,0.0193],[7.33,0.0238]];
const fitD_R = [[7.33,0.0325],[8,0.0292],[9,0.0248],[10,0.0215],[11,0.0192],[11.5,0.0185],[12,0.0182]];
const upD_R = [[7.33,0.0382],[8,0.0348],[9,0.0294],[10,0.0255],[10.7,0.0246],[11.3,0.0256],[12,0.0307]];
const loD_R = [[7.33,0.0272],[8,0.0228],[9,0.019],[10,0.0165],[11,0.0123],[11.5,0.0095],[12,0.0057]];

// ---------- build chart ----------
const panels = [
  {pts: ptsA, lines: [fitA_L, upA_L, loA_L, fitA_R, upA_R, loA_R], y: [yMinA, yMaxA, yStepA]},
  {pts: ptsB, lines: [fitB_L, upB_L, loB_L, fitB_R, upB_R, loB_R], y: [yMinB, yMaxB, yStepB]},
  {pts: ptsC, lines: [fitC_L, upC_L, loC_L, fitC_R, upC_R, loC_R], y: [yMinC, yMaxC, yStepC]},
  {pts: ptsD, lines: [fitD_L, upD_L, loD_L, fitD_R, upD_R, loD_R], y: [yMinD, yMaxD, yStepD]}
];
const grids = [
  {left: 110, top: 16, width: 389, height: 320},
  {left: 661, top: 16, width: 389, height: 321},
  {left: 110, top: 479, width: 389, height: 320},
  {left: 661, top: 479, width: 389, height: 320}
];
const capPos = [[273, 414], [820, 414], [273, 881], [820, 881]];
const axisGray = '#868686';
const tickFont = {fontFamily: 'DejaVu Serif', fontSize: 23, color: '#000'};
const nameFont = {fontFamily: 'DejaVu Serif', fontWeight: 'bold', color: '#000'};

const xAxes = [], yAxes = [], series = [], titles = [];
panels.forEach((p, i) => {
  xAxes.push({
    gridIndex: i, type: 'value', min: xMin, max: xMax, interval: xStep,
    name: xName, nameLocation: 'middle', nameGap: 44,
    nameTextStyle: Object.assign({fontSize: 20}, nameFont),
    axisLine: {onZero: false, lineStyle: {color: axisGray, width: 1.5}},
    axisTick: {length: 6, lineStyle: {color: axisGray, width: 1.5}},
    axisLabel: Object.assign({margin: 23, formatter: v => String(v)}, tickFont),
    splitLine: {show: false}
  });
  yAxes.push({
    gridIndex: i, type: 'value', min: p.y[0], max: p.y[1], interval: p.y[2],
    name: yNames[i], nameLocation: 'middle', nameRotate: 90, nameGap: 76,
    nameTextStyle: Object.assign({fontSize: i === 1 ? 18 : 18.5}, nameFont),
    axisLine: {onZero: false, lineStyle: {color: axisGray, width: 1.5}},
    axisTick: {length: 5, lineStyle: {color: axisGray, width: 1.5}},
    axisLabel: Object.assign({margin: 19, formatter: v => v.toFixed(2)}, tickFont),
    splitLine: {show: false}
  });
  series.push({
    type: 'scatter', xAxisIndex: i, yAxisIndex: i, data: p.pts,
    symbolSize: 6, itemStyle: {color: 'rgba(70,70,70,0.36)'}, z: 1,
    markLine: {
      silent: true, symbol: 'none', label: {show: false}, animation: false,
      lineStyle: {color: axisGray, width: 1.5, type: 'solid'},
      data: [{xAxis: cutoff}, {yAxis: 0}]
    }
  });
  p.lines.forEach((d, k) => {
    const solid = (k % 3) === 0;
    series.push({
      type: 'line', xAxisIndex: i, yAxisIndex: i, data: d, smooth: 0.35,
      symbol: 'none', z: solid ? 4 : 3,
      lineStyle: solid ? {color: '#000', width: 3} : {color: '#000', width: 2.2, type: [8, 5]}
    });
  });
  titles.push({
    text: '{a|' + capBig[i] + '}{b|' + capSmall[i] + '}',
    left: capPos[i][0], top: capPos[i][1], textAlign: 'center',
    textStyle: {
      fontWeight: 'normal',
      rich: {
        a: {fontFamily: 'Liberation Serif', fontWeight: 'normal', fontSize: 26, lineHeight: 28, color: '#000', verticalAlign: 'bottom'},
        b: {fontFamily: 'Liberation Serif', fontWeight: 'normal', fontSize: 20, lineHeight: 22, color: '#000', verticalAlign: 'bottom'}
      }
    }
  });
});

const chart = echarts.init(document.getElementById('c'), null, {renderer: 'canvas'});
chart.setOption({
  animation: false,
  backgroundColor: '#fff',
  title: titles,
  grid: grids,
  xAxis: xAxes,
  yAxis: yAxes,
  series: series
});
</script></body></html>
